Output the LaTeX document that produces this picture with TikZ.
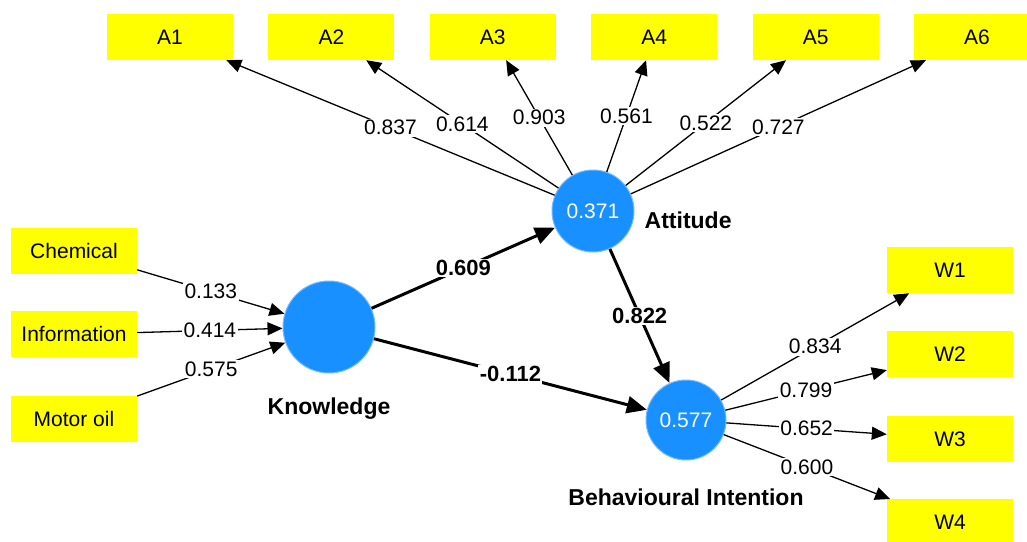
\documentclass[tikz,border=0pt]{standalone}
\usepackage{fontspec}
\setmainfont{Liberation Sans}
\usetikzlibrary{arrows.meta,positioning}

\definecolor{lvblue}{RGB}{24,144,255}
\definecolor{indyellow}{RGB}{255,255,0}

\begin{document}
\begin{tikzpicture}[x=1pt, y=-1pt,
  font=\fontsize{21}{25}\selectfont,
  ind/.style={rectangle, fill=indyellow, minimum width=126pt, minimum height=46pt, inner sep=0pt},
  lv/.style={circle, fill=lvblue, draw=lvblue!60!white, line width=1pt, text=white, inner sep=0pt},
  lvname/.style={font=\fontsize{23}{27}\selectfont\bfseries, inner sep=1pt},
  load/.style={line width=1.3pt, -{Triangle[length=15pt, width=13pt]}},
  path/.style={line width=3pt, -{Triangle[length=20pt, width=17pt]}},
  coef/.style={fill=white, inner sep=1.5pt},
  pcoef/.style={fill=white, inner sep=1.5pt, font=\fontsize{22}{26}\selectfont\bfseries},
]
  \useasboundingbox (0,0) rectangle (1027,541);
  \clip (0,0) rectangle (1027,541);
  % indicator boxes
  \node [ind] (a1) at (170,37) {A1};
  \node [ind, right=35pt of a1] (a2) {A2};
  \node [ind, right=35pt of a2] (a3) {A3};
  \node [ind, right=35pt of a3] (a4) {A4};
  \node [ind, right=35pt of a4] (a5) {A5};
  \node [ind, right=35pt of a5] (a6) {A6};
  \node [ind] (chem) at (74,251) {Chemical};
  \node [ind, below=37pt of chem] (info) {Information};
  \node [ind, below=38pt of info] (moil) {Motor oil};
  \node [ind] (w1) at (950,270) {W1};
  \node [ind, below=38pt of w1] (w2) {W2};
  \node [ind, below=38pt of w2] (w3) {W3};
  \node [ind, below=37pt of w3] (w4) {W4};
  % latent variables
  \node [lv, minimum size=82pt] (att) at (593,211) {0.371};
  \node [lv, minimum size=92pt] (know) at (329,327) {};
  \node [lv, minimum size=80pt] (bi) at (686,420) {0.577};
  \node [lvname, right=9pt of att, yshift=-9pt] {Attitude};
  \node [lvname, below=23pt of know] {Knowledge};
  \node [lvname, below=27pt of bi] {Behavioural Intention};
  % loadings
  \draw [load] (att) -- node [coef] {0.837} (a1);
  \draw [load] (att) -- node [coef] {0.614} (a2);
  \draw [load] (att) -- node [coef] {0.903} (a3);
  \draw [load] (att) -- node [coef] {0.561} (a4);
  \draw [load] (att) -- node [coef] {0.522} (a5);
  \draw [load] (att) -- node [coef] {0.727} (a6);
  \draw [load] (chem) -- node [coef] {0.133} (know);
  \draw [load] (info) -- node [coef] {0.414} (know);
  \draw [load] (moil) -- node [coef] {0.575} (know);
  \draw [load] (bi) -- node [coef] {0.834} (w1);
  \draw [load] (bi) -- node [coef] {0.799} (w2);
  \draw [load] (bi) -- node [coef] {0.652} (w3);
  \draw [load] (bi) -- node [coef] {0.600} (w4);
  % structural paths
  \draw [path] (know) -- node [pcoef] {0.609} (att);
  \draw [path] (know) -- node [pcoef] {-0.112} (bi);
  \draw [path] (att) -- node [pcoef] {0.822} (bi);
\end{tikzpicture}
\end{document}
